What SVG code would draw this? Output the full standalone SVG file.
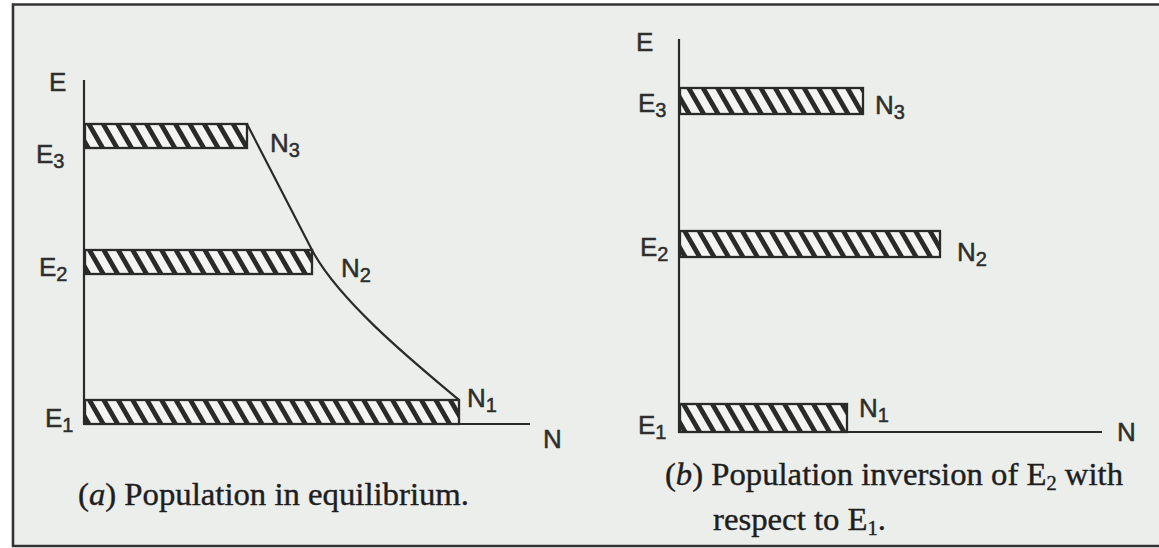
<svg xmlns="http://www.w3.org/2000/svg" width="1159" height="548" viewBox="0 0 1159 548">
<defs>
<pattern id="hatch" patternUnits="userSpaceOnUse" width="12.5" height="12" patternTransform="rotate(-30)">
<rect x="0" y="0" width="12.5" height="12" fill="#f4f5f3"/>
<rect x="0" y="0" width="4.8" height="12" fill="#2a2a2a"/>
</pattern>
<style>
.ax{stroke:#2a2a2a;stroke-width:2.2;fill:none}
.bar{fill:url(#hatch);stroke:#2a2a2a;stroke-width:2.3}
.lb{font-family:"Liberation Sans",Arial,sans-serif;font-size:26px;fill:#2e2e2e;stroke:#2e2e2e;stroke-width:0.5}
.sub{font-size:20px}
.cap{font-family:"Liberation Serif","Times New Roman",serif;font-size:32px;fill:#1e1e1e;stroke:#1e1e1e;stroke-width:0.4}
.frame{stroke:#333;stroke-width:2.6;fill:none}
</style>
</defs>
<rect x="0" y="0" width="1159" height="548" fill="#ffffff"/>
<rect x="13" y="5" width="1146" height="541" fill="#eceeec"/>
<g id="frame">
<path class="frame" d="M13,547 L13,4.5 L1159,4.5 M12,546 L1159,546"/>
</g>

<g id="diagram-a">
<g id="axes-a">
<path class="ax" d="M84,80 L84,424 L530,424"/>
<text class="lb" x="49" y="91">E</text>
<text class="lb" x="543" y="448">N</text>
</g>
<g id="level-a-E3">
<rect class="bar" x="85" y="124" width="162" height="24"/>
<text class="lb" x="36" y="163">E<tspan class="sub" dy="5">3</tspan></text>
<text class="lb" x="270" y="152">N<tspan class="sub" dy="5">3</tspan></text>
</g>
<g id="level-a-E2">
<rect class="bar" x="85" y="250" width="227" height="24"/>
<text class="lb" x="39" y="276">E<tspan class="sub" dy="5">2</tspan></text>
<text class="lb" x="341" y="277">N<tspan class="sub" dy="5">2</tspan></text>
</g>
<g id="level-a-E1">
<rect class="bar" x="85" y="400" width="374" height="24"/>
<text class="lb" x="45" y="427">E<tspan class="sub" dy="5">1</tspan></text>
<text class="lb" x="467" y="407">N<tspan class="sub" dy="5">1</tspan></text>
</g>
<text class="cap" x="78" y="505" textLength="391" lengthAdjust="spacingAndGlyphs">(<tspan font-style="italic">a</tspan>) Population in equilibrium.</text>
</g>

<g id="connectors">
<path class="ax" d="M247,124 L312,250 C340,303 421,368 459,400"/>
</g>

<g id="diagram-b">
<g id="axes-b">
<path class="ax" d="M679,39 L679,432 L1102,432"/>
<text class="lb" x="636" y="51">E</text>
<text class="lb" x="1117" y="441">N</text>
</g>
<g id="level-b-E3">
<rect class="bar" x="680" y="88" width="183" height="26"/>
<text class="lb" x="638" y="112">E<tspan class="sub" dy="5">3</tspan></text>
<text class="lb" x="875" y="114">N<tspan class="sub" dy="5">3</tspan></text>
</g>
<g id="level-b-E2">
<rect class="bar" x="680" y="231" width="260" height="26"/>
<text class="lb" x="640" y="256">E<tspan class="sub" dy="5">2</tspan></text>
<text class="lb" x="957" y="261">N<tspan class="sub" dy="5">2</tspan></text>
</g>
<g id="level-b-E1">
<rect class="bar" x="680" y="404" width="167" height="28"/>
<text class="lb" x="638" y="434">E<tspan class="sub" dy="5">1</tspan></text>
<text class="lb" x="859" y="417">N<tspan class="sub" dy="5">1</tspan></text>
</g>
<text class="cap" x="665" y="485" textLength="458" lengthAdjust="spacingAndGlyphs">(<tspan font-style="italic">b</tspan>) Population inversion of E<tspan font-size="20" dy="5">2</tspan><tspan dy="-5"> with</tspan></text>
<text class="cap" x="713" y="530" textLength="173" lengthAdjust="spacingAndGlyphs">respect to E<tspan font-size="20" dy="5">1</tspan><tspan dy="-5">.</tspan></text>
</g>
</svg>
